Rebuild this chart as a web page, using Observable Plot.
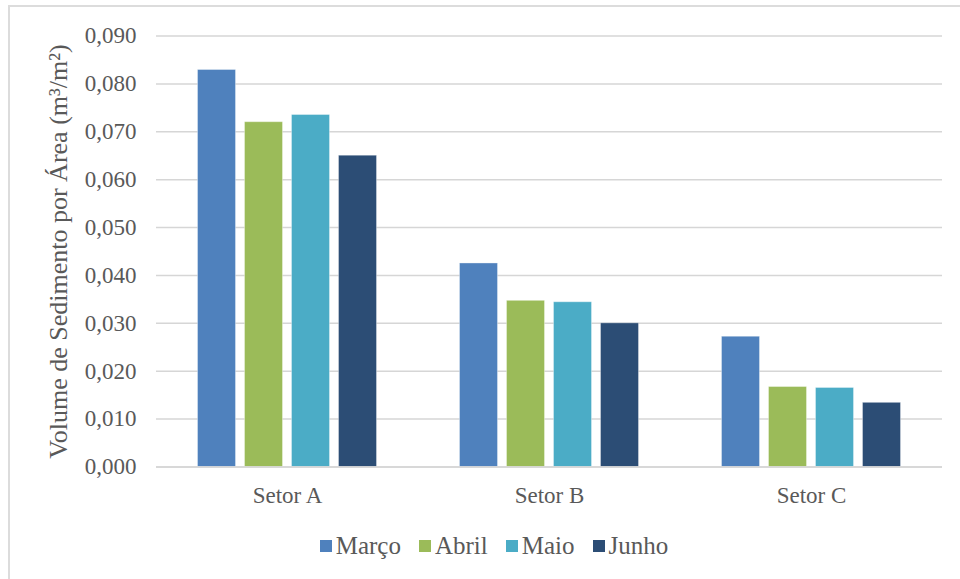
<!DOCTYPE html>
<html>
<head>
<meta charset="utf-8">
<script src="https://cdn.jsdelivr.net/npm/d3@7"></script>
<script src="https://cdn.jsdelivr.net/npm/@observablehq/plot@0.6"></script>
<style>
  html, body { margin: 0; padding: 0; background: #fff; }
  #page { position: relative; width: 960px; height: 579px; overflow: hidden; background: #fff; }
  #frame { position: absolute; left: 8px; top: 5px; width: 1000px; height: 640px;
           border-left: 2px solid #dcdcdc; border-top: 2px solid #dcdcdc; }
  #chart { position: absolute; left: 0; top: 0; }
  #chart svg, #chart svg text { font-family: "Liberation Serif", "DejaVu Serif", serif !important; }
  #legend { position: absolute; left: 0; top: 532px; width: 960px; display: flex; justify-content: center; padding-left: 46px; box-sizing: border-box; }
  .leg-swatches { font-family: "Liberation Serif", "DejaVu Serif", serif !important; font-size: 25px !important;
                  color: #595959 !important; min-height: 0 !important; margin: 0 !important; }
  .leg-swatch { margin-right: 18px !important; }
  .leg-swatch > svg { margin-right: 4px !important; }
</style>
</head>
<body>
<div id="page">
  <div id="frame"></div>
  <div id="chart"></div>
  <div id="legend"></div>
</div>
<script>
// Sectors, months and measured sediment volume per area (m³/m²)
const setores = ["Setor A", "Setor B", "Setor C"];
const meses = ["Março", "Abril", "Maio", "Junho"];
const marco = [0.0829, 0.0425, 0.0272];
const abril = [0.0720, 0.0347, 0.0167];
const maio  = [0.0735, 0.0344, 0.0165];
const junho = [0.0650, 0.0300, 0.0134];
const cores = ["#4F81BD", "#9BBB59", "#4BACC6", "#2C4D75"];
const yTicks = [0, 0.01, 0.02, 0.03, 0.04, 0.05, 0.06, 0.07, 0.08, 0.09];
const tituloY = "Volume de Sedimento por Área (m³/m²)";

const series = [marco, abril, maio, junho];
const dados = setores.flatMap((setor, i) =>
  meses.map((mes, j) => ({setor, mes, valor: series[j][i]}))
);

const fmt = v => d3.format(".3f")(v).replace(".", ",");
const fonte = "Liberation Serif, DejaVu Serif, serif";

const chart = Plot.plot({
  width: 960,
  height: 520,
  marginLeft: 155.5,
  marginRight: 18.5,
  marginTop: 35.5,
  marginBottom: 53.5,
  style: {fontFamily: fonte, background: "transparent", color: "#595959", overflow: "visible"},
  fx: {domain: setores, padding: 0, label: null},
  x: {domain: meses, paddingInner: 0.2, paddingOuter: 0.87, axis: null},
  y: {domain: [0, 0.09], label: null},
  color: {domain: meses, range: cores},
  marks: [
    Plot.gridY(yTicks, {stroke: "#d6d6d6", strokeOpacity: 1, strokeWidth: 1.5}),
    Plot.barY(dados, {fx: "setor", x: "mes", y: "valor", fill: "mes",
                      stroke: "#ffffff", strokeOpacity: 0.35, strokeWidth: 1}),
    Plot.ruleY([0], {stroke: "#d6d6d6", strokeWidth: 1.5}),
    Plot.axisY(yTicks, {tickSize: 0, tickPadding: 20, fontSize: 23, tickFormat: fmt, label: null}),
    Plot.axisY({ticks: [], tickSize: 0, label: tituloY, labelAnchor: "center",
                labelOffset: 108, labelArrow: "none", fontSize: 26}),
    Plot.axisFx({anchor: "bottom", tickSize: 0, tickPadding: 20, fontSize: 23, label: null})
  ]
});
document.getElementById("chart").appendChild(chart);

const legenda = Plot.legend({
  color: {domain: meses, range: cores},
  legend: "swatches",
  swatchSize: 12,
  className: "leg"
});
document.getElementById("legend").appendChild(legenda);
</script>
</body>
</html>
